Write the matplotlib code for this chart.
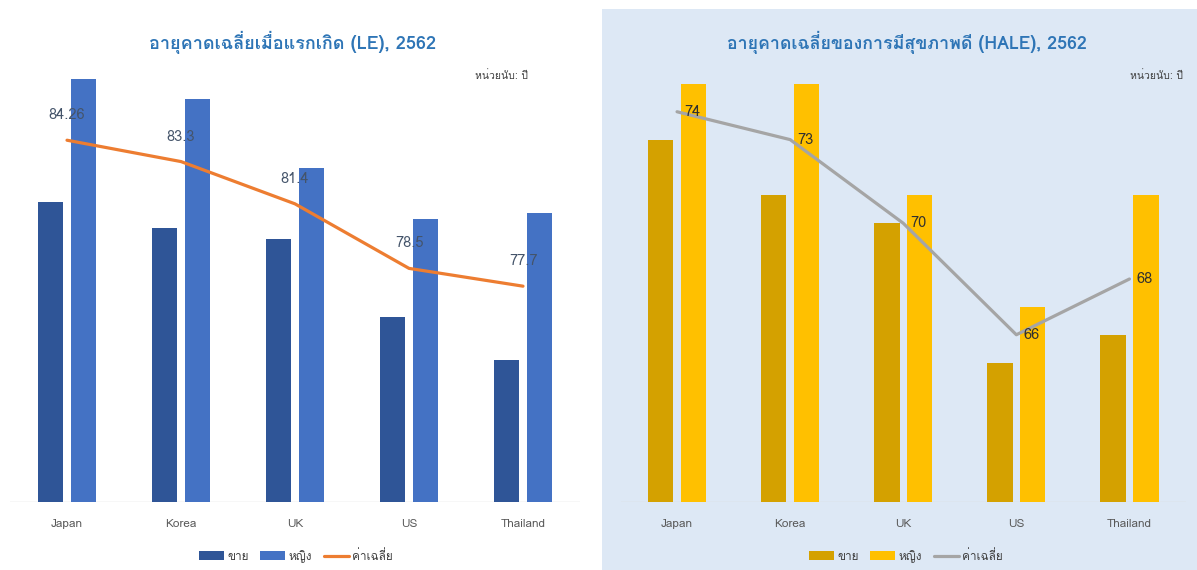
import matplotlib
matplotlib.use("Agg")
import matplotlib.pyplot as plt
from matplotlib import font_manager as fm
from matplotlib.patches import Rectangle
import numpy as np

# ---- data ----
countries = ["Japan", "Korea", "UK", "US", "Thailand"]

le_male = [81.5, 80.3, 79.8, 76.3, 74.4]
le_female = [87.0, 86.1, 83.0, 80.7, 81.0]
le_avg = [84.26, 83.3, 81.4, 78.5, 77.7]

hale_male = [73, 71, 70, 65, 66]
hale_female = [75, 75, 71, 67, 71]
hale_avg = [74, 73, 70, 66, 68]

series_names = ["ขาย", "หญิง", "ค่าเฉลี่ย"]
unit_text = "หน่วยนับ: ปี"
title_le = "อายุคาดเฉลี่ยเมื่อแรกเกิด (LE), 2562"
title_hale = "อายุคาดเฉลี่ยของการมีสุขภาพดี (HALE), 2562"

# Loma keeps stacked tone marks above upper vowels without shaping
installed = {f.name for f in fm.fontManager.ttflist}
thai_font = "DejaVu Sans"
for cand in ["Loma", "Noto Sans Thai Looped", "Sarabun", "Noto Sans Thai"]:
    if cand in installed:
        thai_font = cand
        break
plt.rcParams["font.family"] = [thai_font, "DejaVu Sans"]

W, H = 1197, 570
fig = plt.figure(figsize=(W / 100, H / 100), dpi=100)
fig.patch.set_facecolor("white")

# light blue panel behind the HALE chart
fig.patches.append(Rectangle((602 / W, 0), 1 - 602 / W, (H - 9) / H,
                             transform=fig.transFigure, facecolor="#DDE8F5",
                             edgecolor="none", zorder=-1))

x = np.arange(len(countries))
bw = 0.225
off = 0.145


def draw_panel(rect, ylim, male, female, avg, c_male, c_female, c_line, label_style):
    ax = fig.add_axes(rect)
    ax.set_facecolor("none")
    ax.bar(x - off, male, bw, color=c_male, zorder=2)
    ax.bar(x + off, female, bw, color=c_female, zorder=2)
    ax.plot(x, avg, color=c_line, lw=2.3, zorder=3, solid_capstyle="round")
    ax.set_xlim(-0.5, len(countries) - 0.5)
    ax.set_ylim(*ylim)
    ax.axhline(ylim[0], color="#D9D9D9", lw=1, zorder=1)
    for s in ax.spines.values():
        s.set_visible(False)
    ax.set_yticks([])
    ax.set_xticks(x)
    ax.set_xticklabels(countries, fontsize=8.5, color="#595959")
    ax.tick_params(axis="x", length=0, pad=12)
    for xi, v in zip(x, avg):
        if label_style == "above":
            ax.annotate(f"{v:g}", (xi, v), xytext=(0, 18), textcoords="offset points",
                        ha="center", va="center", fontsize=10.5, color="#44546A",
                        zorder=4)
        else:
            ax.annotate(f"{v:g}", (xi, v), xytext=(5, 0), textcoords="offset points",
                        ha="left", va="center", fontsize=10.5, color="#303030",
                        zorder=4)
    return ax


ax1 = draw_panel([10 / W, 68 / H, 570 / W, 445 / H], (68, 88),
                 le_male, le_female, le_avg,
                 "#2F5597", "#4472C4", "#ED7D31", "above")
ax2 = draw_panel([620.5 / W, 68 / H, 565.5 / W, 446 / H], (60, 76),
                 hale_male, hale_female, hale_avg,
                 "#D4A100", "#FFC000", "#A5A5A5", "right")

# titles and unit notes
fig.text(293 / W, 1 - 42 / H, title_le, ha="center", va="center",
         fontsize=13, color="#2E75B6", fontweight="bold")
fig.text(907 / W, 1 - 42 / H, title_hale, ha="center", va="center",
         fontsize=12.8, color="#2E75B6", fontweight="bold")
fig.text(528 / W, 1 - 76 / H, unit_text, ha="right", va="center",
         fontsize=7.5, color="#404040")
fig.text(1183 / W, 1 - 76 / H, unit_text, ha="right", va="center",
         fontsize=7.5, color="#404040")

# legends under each chart
for ax, cx in [(ax1, 296), (ax2, 906)]:
    bars = ax.containers
    line = ax.get_lines()[0]
    leg = fig.legend([bars[0], bars[1], line], series_names,
                     loc="center", bbox_to_anchor=(cx / W, 1 - 556 / H),
                     ncol=3, frameon=False, fontsize=8.5,
                     handlelength=2.1, handleheight=0.8,
                     handletextpad=0.3, columnspacing=1.0)
    for t in leg.get_texts():
        t.set_color("#404040")

fig.savefig("out.png", dpi=100)
